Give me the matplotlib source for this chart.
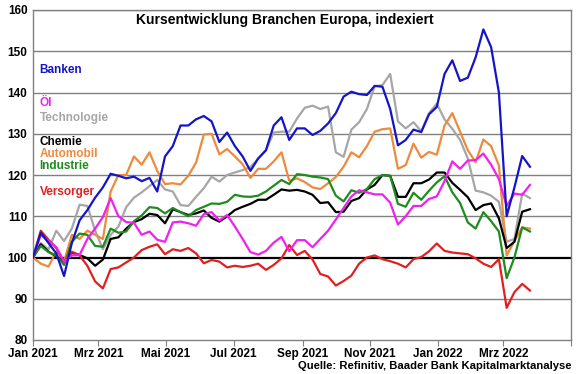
import matplotlib
matplotlib.use("Agg")
import matplotlib.pyplot as plt
import pandas as pd

plt.rcParams['font.family'] = ['Liberation Sans', 'DejaVu Sans']

dates = pd.date_range("2021-01-01", periods=65, freq="7D")

banken = [100, 106, 103.5, 101, 95.5, 103.5, 109, 111.5, 114.5, 117, 120.3, 119.8, 119.2, 119.6, 118.5, 119.3,
          116, 124.5, 127, 132, 132, 133.5, 134.3, 133, 128, 130.3, 127, 124.5, 121, 124, 126, 132,
          134, 128.5, 131.3, 131.3, 129.7, 130.7, 132.5, 135, 139, 140.2, 139.6, 139.4, 141.6, 141.4, 136, 127.2,
          128.5, 131, 130.4, 134.7, 136.5, 144.5, 147.8, 142.8, 143.6, 148.5, 155.3, 151, 140, 110, 117, 124.6, 122]
oel = [100, 105.5, 104, 102.5, 99, 100.5, 100.6, 104.5, 107, 109.8, 114.4, 110, 108.6, 108.4, 105.5, 106.3,
       104.3, 103.8, 108.5, 108.7, 108.3, 107.7, 110.5, 111, 109, 110.3, 107.5, 104.5, 101.3, 100.7, 101.6, 103.6,
       105, 101.5, 104.2, 104.2, 102.5, 104.5, 106.5, 109.2, 112, 114.8, 116.3, 115.8, 115.3, 115.3, 113.3, 108,
       110, 112.5, 112.5, 114.2, 114.8, 118.5, 123.3, 121.5, 123.5, 123.6, 125.2, 122.5, 119, 112.5, 115.5, 115.2, 117.6]
technologie = [100, 103.5, 102, 106.5, 104, 107, 112.8, 112.5, 106.5, 102, 105.5, 107.5, 112.2, 114.5, 115.8, 117.3,
               118.8, 116.5, 116, 112.7, 112.5, 114.7, 116.8, 119.6, 118.4, 120, 120.6, 121.2, 121.9, 124, 126, 130.3,
               130.5, 130.5, 133.7, 136.3, 136.8, 136, 136.6, 125.5, 124.4, 131, 132.8, 136, 141.5, 141.8, 144.5, 133,
               131.3, 132.8, 130.6, 135, 137.3, 133.5, 131.2, 128.5, 124, 116.2, 115.8, 115, 113.5, 103.8, 104.5, 115.5, 114.4]
chemie = [100, 103.2, 101.4, 100.3, 99, 101.2, 100.6, 99.8, 98, 99.5, 104.5, 104.9, 107, 108.6, 109.3, 110.6,
          110.3, 108.3, 111.7, 111, 110.3, 110.7, 111.4, 109.6, 108.7, 110, 111.5, 112.3, 113, 114, 114, 115.2,
          116.5, 116.2, 116.4, 116, 115.2, 113.2, 113.4, 111, 111.1, 113.7, 114.4, 116.5, 117.6, 120, 119.8, 114.7,
          114.7, 118, 118, 118.9, 120.6, 120.6, 118.1, 116.4, 114.6, 111.5, 112.7, 113.1, 109.5, 102.3, 103.8, 111.1, 111.7]
automobil = [100, 98.5, 97.8, 101.5, 99, 105.5, 104.5, 106.5, 105.5, 104.5, 116, 120, 120, 124.5, 122.5, 125.5,
             121, 117.8, 118, 117.7, 119.8, 123, 129.8, 130, 125, 126.3, 124.5, 122.6, 119.3, 121.5, 121.5, 123.3,
             125.5, 118.6, 119.2, 118.3, 117, 116.6, 118, 119.5, 122, 125.5, 124.3, 127, 130.5, 131.1, 131.3, 121.5,
             122.4, 127.6, 124.2, 125.6, 124.9, 132, 135, 130.5, 126, 123.1, 128.6, 127, 122.3, 100.5, 104, 107.3, 107]
industrie = [100, 102.8, 101.3, 100.5, 98.2, 103.8, 105.8, 105.5, 102.8, 102.6, 107, 106, 106.3, 108.8, 110.2, 112.2,
             112, 110.7, 112, 111, 110, 111.5, 112.3, 113.1, 113, 113.5, 115.2, 114.8, 114.7, 115, 116, 117.4,
             118.8, 117.8, 120.2, 120, 119.6, 119.4, 119, 115, 113.6, 116.3, 115.7, 116.6, 119, 120, 119.8, 113,
             112.3, 115.7, 114, 116.2, 118.2, 119.7, 115.8, 113.2, 108.5, 107, 111, 108.8, 106.3, 95, 100, 107.3, 106.3]
versorger = [100, 106.5, 104.3, 102.3, 99, 101.4, 100.5, 98, 94.2, 92.5, 97.2, 97.6, 98.8, 100, 101.8, 102.6,
             103.2, 100.8, 102, 101.6, 102.3, 101, 98.6, 99.4, 99, 97.6, 98, 97.7, 98, 98.5, 97, 98.2,
             99.8, 103, 100.6, 101.6, 99.5, 96, 95.4, 93.2, 94.3, 95.6, 98.5, 100, 100.5, 99.6, 99.1, 98.5,
             97.6, 99.6, 100.1, 101.5, 103.4, 101.6, 101.2, 101, 100.8, 99.8, 98.5, 97.7, 99.6, 87.8, 91.6, 93.6, 92]

series_names = ["Banken", "Öl", "Technologie", "Chemie", "Automobil", "Industrie", "Versorger"]
series_colors = ["#1414C8", "#F020F0", "#A6A6A6", "#000000", "#EE8A3C", "#1E8C1E", "#E02020"]
label_y = [145.5, 137.5, 133.8, 128.0, 125.1, 122.2, 115.9]

tick_dates = pd.date_range("2021-01-01", "2022-05-01", freq="2MS")
tick_labels = ["Jan 2021", "Mrz 2021", "Mai 2021", "Jul 2021", "Sep 2021", "Nov 2021", "Jan 2022", "Mrz 2022", ""]

fig = plt.figure(figsize=(5.8, 3.74), dpi=100)
ax = fig.add_axes([33/580, 1 - 340/374, 538/580, 330/374])

for y in range(90, 161, 10):
    if y == 100:
        continue
    ax.axhline(y, color="#808080", lw=1.0, zorder=1)
ax.axhline(100, color="#000000", lw=1.6, zorder=1)

all_series = [banken, oel, technologie, chemie, automobil, industrie, versorger]
order = [2, 4, 3, 5, 6, 1, 0]
for k in order:
    ax.plot(dates, all_series[k], color=series_colors[k], lw=1.6, zorder=3)

for name, col, yy in zip(series_names, series_colors, label_y):
    ax.text(0.012, yy, name, color=col, fontsize=8.5, fontweight="bold",
            transform=ax.get_yaxis_transform(), va="center", ha="left")

ax.text(0.468, 157.6, "Kursentwicklung Branchen Europa, indexiert", transform=ax.get_yaxis_transform(),
        ha="center", va="center", fontsize=10, fontweight="bold")

ax.set_xlim(pd.Timestamp("2021-01-01"), pd.Timestamp("2022-05-01"))
ax.set_ylim(80, 160)
ax.set_yticks(range(80, 161, 10))
ax.set_yticklabels([str(v) for v in range(80, 161, 10)], fontsize=8.5, fontweight="bold")
ax.set_xticks(tick_dates)
ax.set_xticklabels(tick_labels, fontsize=8.5, fontweight="bold")
ax.tick_params(axis="y", length=0, pad=4)
ax.tick_params(axis="x", length=4, color="#808080", pad=2)
for s in ax.spines.values():
    s.set_color("#808080")
    s.set_linewidth(1.0)

fig.text(572/580, 1 - 366/374, "Quelle: Refinitiv, Baader Bank Kapitalmarktanalyse", ha="right", va="center",
         fontsize=8.1, fontweight="bold")

fig.savefig("out.png", dpi=100)
